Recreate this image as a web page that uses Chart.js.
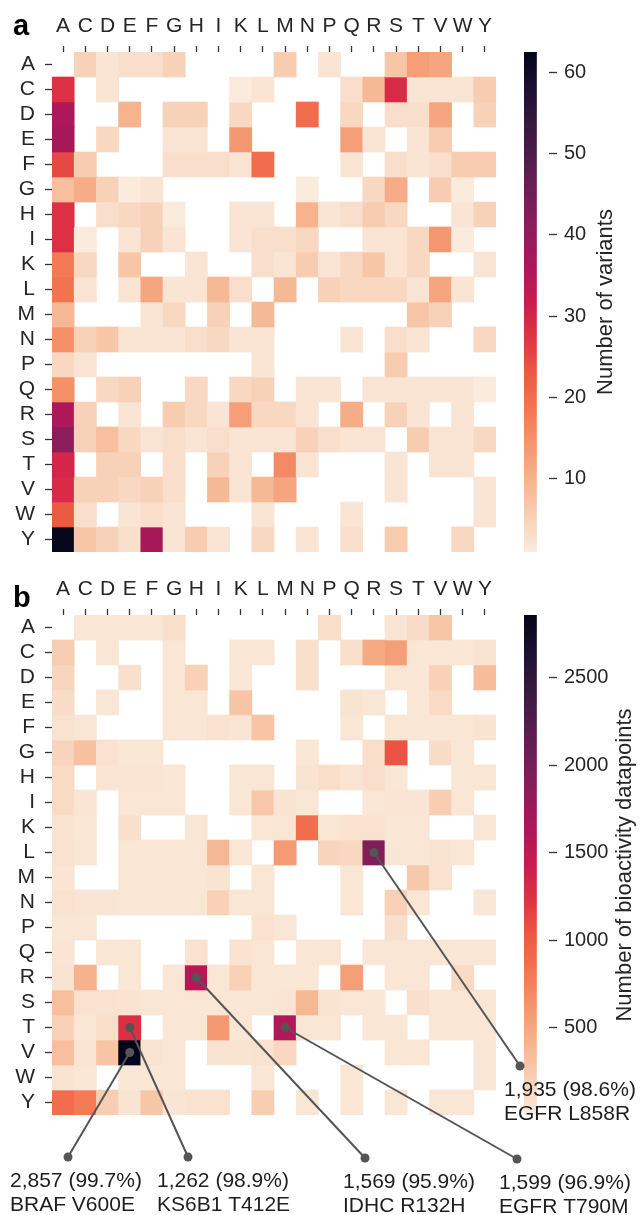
<!DOCTYPE html>
<html><head><meta charset="utf-8">
<script src="https://cdn.jsdelivr.net/npm/chart.js@4.4.1/dist/chart.umd.min.js"></script>
<style>
html,body{margin:0;padding:0;background:#fff;width:640px;height:1215px;overflow:hidden;}
.box{position:absolute;}
canvas{display:block;}
</style></head><body>
<div class="box" style="left:500px;top:0;width:140px;height:560px"><canvas id="cbA"></canvas></div>
<div class="box" style="left:0;top:0;width:500px;height:560px"><canvas id="hmA"></canvas></div>
<div class="box" style="left:500px;top:563px;width:140px;height:560px"><canvas id="cbB"></canvas></div>
<div class="box" style="left:0;top:563px;width:640px;height:652px"><canvas id="hmB"></canvas></div>
<script>
// ---------------- DATA ----------------
const residues = ['A','C','D','E','F','G','H','I','K','L','M','N','P','Q','R','S','T','V','W','Y'];

// panel a: number of variants (row = wild type, column = mutant); 0 = no data
const variantCounts = [
 [ 0, 5, 2, 3, 3, 5, 0, 0, 0, 0, 6, 0, 2, 0, 0, 7,13,12, 0, 0], // A
 [28, 0, 2, 0, 0, 0, 0, 0, 1, 2, 0, 0, 0, 3, 9,29, 2, 2, 2, 6], // C
 [36, 0, 0,10, 0, 5, 5, 0, 4, 0, 0,20, 0, 4, 0, 3, 3,12, 0, 5], // D
 [37, 0, 4, 0, 0, 2, 2, 0,14, 0, 0, 0, 0,13, 2, 0, 2, 6, 0, 0], // E
 [25, 6, 0, 0, 0, 3, 3, 3, 2,20, 0, 0, 0, 2, 0, 3, 2, 3, 6, 6], // F
 [ 8,11, 5, 1, 2, 0, 0, 0, 0, 0, 0, 1, 0, 0, 4,11, 0, 6, 1, 0], // G
 [28, 0, 3, 4, 5, 1, 0, 0, 2, 2, 0,10, 2, 3, 6, 4, 0, 0, 2, 5], // H
 [28, 1, 0, 2, 5, 2, 0, 0, 2, 3, 3, 4, 0, 0, 2, 2, 4,14, 1, 0], // I
 [18, 4, 0, 7, 0, 0, 2, 0, 0, 3, 2, 6, 2, 4, 7, 2, 4, 0, 0, 2], // K
 [19, 2, 0, 2,12, 2, 2, 9, 3, 0, 9, 0, 5, 4, 4, 4, 2,12, 2, 0], // L
 [ 9, 0, 0, 0, 2, 4, 0, 5, 0, 9, 0, 0, 0, 0, 0, 0, 7, 5, 0, 0], // M
 [15, 5, 7, 2, 2, 2, 3, 4, 2, 2, 0, 0, 0, 2, 0, 3, 2, 0, 0, 4], // N
 [ 4, 2, 0, 0, 0, 0, 0, 0, 0, 2, 0, 0, 0, 0, 0, 6, 0, 0, 0, 0], // P
 [15, 0, 4, 5, 0, 0, 4, 0, 4, 5, 0, 2, 2, 0, 2, 2, 2, 2, 2, 1], // Q
 [36, 5, 0, 2, 0, 6, 4, 2,13, 4, 4, 2, 0,11, 0, 5, 2, 0, 2, 0], // R
 [41, 5, 8, 4, 2, 3, 2, 3, 2, 2, 2, 5, 3, 2, 2, 0, 6, 2, 2, 4], // S
 [30, 0, 5, 5, 0, 3, 0, 5, 2, 0,16, 2, 0, 0, 0, 2, 0, 2, 2, 0], // T
 [29, 5, 5, 4, 5, 3, 0, 9, 2, 9,12, 0, 0, 0, 0, 2, 0, 0, 0, 2], // V
 [23, 3, 0, 2, 3, 2, 0, 0, 0, 2, 0, 0, 0, 2, 0, 0, 0, 0, 0, 2], // W
 [62, 7, 5, 3,37, 2, 6, 2, 0, 4, 0, 2, 0, 3, 0, 6, 0, 0, 4, 0]  // Y
];

// panel b: number of bioactivity datapoints; 0 = no data
const bioactivityCounts = [
 [  0, 40, 40,  40, 40, 100,   0,  0,  0,  0,   0,  0,100,  0,   0,  50, 110,280,  0,  0], // A
 [220,  0, 40,   0,  0,  40,   0,  0, 40, 40,   0, 80,  0,100, 480, 550,  40, 40, 40, 60], // C
 [160,  0,  0,  80,  0,  40, 200,  0, 40,  0,   0, 80,  0,  0,   0,  40,  40,200,  0,350], // D
 [110,  0, 40,   0,  0,  40,  40,  0,290,  0,   0,  0,  0, 60,  40,   0,  40,130,  0,  0], // E
 [ 70, 40,  0,   0,  0,  40,  40, 70, 50,290,   0,  0,  0, 40,   0,  40,  40, 40, 40, 60], // F
 [170,320, 70,  40, 40,   0,   0,  0,  0,  0,   0, 40,  0,  0, 100,1060,   0,110, 40,  0], // G
 [130,  0, 50,  50, 50,  40,   0,  0, 40, 40,   0, 60,100, 50,  90,  40,   0,  0, 40, 40], // H
 [130, 50,  0,  40, 40,  40,   0,  0, 40,270,  60, 40,  0,  0,  40,  50,  50,220, 40,  0], // I
 [ 60, 40,  0,  80,  0,   0,  40,  0,  0, 40,  40,880, 40, 70,  70,  40,  40,  0,  0, 40], // K
 [ 70, 40,  0,  40, 40,  40,  40,380, 40,  0, 580,  0,170,150,1935,  40,  40, 60, 40,  0], // L
 [ 50,  0,  0,  40, 40,  40,  40, 60,  0, 40,   0,  0,  0, 40,   0,   0, 260, 70,  0,  0], // M
 [ 70, 50, 50,  40, 40,  40,  40,200, 40, 40,   0,  0,  0, 40,   0, 200,  40,  0,  0, 40], // N
 [ 40, 40,  0,   0,  0,   0,   0,  0,  0, 70,  40,  0,  0,  0,   0,  80,   0,  0,  0,  0], // P
 [ 50,  0, 40,  40,  0,   0,  70,  0, 70, 40,   0, 40, 40,  0,  40,  40,  40, 40, 40, 40], // Q
 [ 60,420,  0,  40,  0,  40,1569, 40,200, 40,  40, 40,  0,550,   0,  40,  40,  0,130,  0], // R
 [330, 70, 70,  60, 40,  40,  40, 40, 40, 40,  50,380, 60, 40,  40,   0,  80, 40, 40, 40], // S
 [200, 40,100,1262,  0,  40,  40,590, 40,  0,1599, 40, 40,  0,  40,  40,   0, 40, 40, 40], // T
 [330, 50,290,2857, 70,  40,   0, 60, 60, 70, 150,  0,  0,  0,   0,  40,  40,  0,  0, 40], // V
 [ 60, 40,  0,  40, 40,  40,   0,  0,  0, 40,   0,  0,  0, 40,   0,   0,   0,  0,  0, 40], // W
 [880,780,220,  60,280,  50,  70, 70,  0,220,   0, 40,  0, 40,   0,  40,   0, 40, 40,  0]  // Y
];

const variantRange = [1, 62.5];
const bioRange = [1, 2857];
const variantTicks = [10, 20, 30, 40, 50, 60];
const bioTicks = [500, 1000, 1500, 2000, 2500];

// callouts in panel b
const calloutRow = ['V', 'T', 'R', 'T', 'L'];
const calloutCol = ['E', 'E', 'H', 'M', 'R'];
const calloutCount = [2857, 1262, 1569, 1599, 1935];
const calloutPct = [99.7, 98.9, 95.9, 96.9, 98.6];
const calloutName = ['BRAF V600E', 'KS6B1 T412E', 'IDHC R132H', 'EGFR T790M', 'EGFR L858R'];

// ---------------- STYLE / LAYOUT ----------------
const FONT = '"Liberation Sans", Arial, Helvetica, sans-serif';
const TEXT = '#262626';
const calloutDotX = [68, 188, 365, 517, 520];      // page px
const calloutDotY = [1157, 1157, 1158, 1159, 1066]; // page px
const calloutTextX = [10, 157, 343, 499, 504];

const rocketStops = [
 [0.000,'#03051a'],[0.071,'#1b1033'],[0.143,'#35193e'],[0.214,'#521c4d'],[0.286,'#701f57'],
 [0.357,'#8e1d5b'],[0.429,'#ad1759'],[0.500,'#cb1b4f'],[0.571,'#e13342'],[0.643,'#ed5a44'],
 [0.714,'#f37651'],[0.786,'#f5966f'],[0.857,'#f6b48f'],[0.929,'#f8d0b5'],[1.000,'#faebdd']];
function hex2rgb(h){return [parseInt(h.substr(1,2),16),parseInt(h.substr(3,2),16),parseInt(h.substr(5,2),16)];}
function rocket(x){
  x = Math.max(0, Math.min(1, x));
  for (let i = 1; i < rocketStops.length; i++) {
    const [p1, c1] = rocketStops[i - 1], [p2, c2] = rocketStops[i];
    if (x <= p2) {
      const f = (x - p1) / (p2 - p1), a = hex2rgb(c1), b = hex2rgb(c2);
      return 'rgb(' + a.map((v, k) => Math.round(v + (b[k] - v) * f)).join(',') + ')';
    }
  }
  return rocketStops[rocketStops.length - 1][1];
}
function colorFor(v, range){ return rocket(1 - (v - range[0]) / (range[1] - range[0])); }

Chart.defaults.font.family = FONT;
Chart.defaults.color = TEXT;
Chart.defaults.animation = false;

function noPad(s){ s.paddingTop = 0; s.paddingBottom = 0; s.paddingLeft = 0; s.paddingRight = 0; }

function panelLabel(text, x, y){
  return { id: 'panel' + text, afterDraw(chart){
    const c = chart.ctx; c.save(); c.fillStyle = '#000';
    c.font = 'bold 29px ' + FONT; c.textAlign = 'left'; c.textBaseline = 'alphabetic';
    c.fillText(text, x, y); c.restore(); } };
}

function heatmap(id, matrix, range, padRight, padBottom, plugins){
  const datasets = residues.map((r, i) => ({
    label: r,
    data: matrix[i].map(v => v > 0 ? [i, i + 1] : null),
    backgroundColor: matrix[i].map(v => v > 0 ? colorFor(v, range) : 'rgba(0,0,0,0)'),
    borderWidth: 0, borderSkipped: false, grouped: false,
    barPercentage: 1, categoryPercentage: 1
  }));
  return new Chart(document.getElementById(id), {
    type: 'bar',
    data: { labels: residues, datasets },
    options: {
      responsive: true, maintainAspectRatio: false, events: [],
      layout: { padding: { left: 0, top: 0, right: padRight, bottom: padBottom } },
      plugins: { legend: { display: false }, tooltip: { enabled: false } },
      scales: {
        x: { type: 'category', position: 'top', offset: true,
             grid: { offset: false, drawOnChartArea: false, drawTicks: true, tickLength: 6, tickWidth: 1.3, tickColor: '#333', color: '#333' },
             border: { display: false },
             ticks: { color: TEXT, font: { size: 21 }, padding: 7, autoSkip: false, maxRotation: 0, minRotation: 0 },
             afterFit(s){ s.height = 52; noPad(s); } },
        y: { type: 'linear', min: 0, max: 20, reverse: true,
             afterBuildTicks(s){ s.ticks = residues.map((_, i) => ({ value: i + 0.5 })); },
             grid: { drawOnChartArea: false, drawTicks: true, tickLength: 7, tickWidth: 1.3, tickColor: '#333', color: '#333' },
             border: { display: false },
             ticks: { color: TEXT, font: { size: 21 }, padding: 10, autoSkip: false,
                      callback: v => residues[Math.floor(v)] },
             afterFit(s){ s.width = 52; noPad(s); } }
      }
    },
    plugins
  });
}

function colorbar(id, range, tickVals, title, titleX){
  return new Chart(document.getElementById(id), {
    type: 'bar',
    data: { labels: [''], datasets: [{
      data: [[range[0], range[1]]],
      backgroundColor: (ctx) => {
        const ca = ctx.chart.chartArea; if (!ca) return '#faebdd';
        const g = ctx.chart.ctx.createLinearGradient(0, ca.bottom, 0, ca.top);
        rocketStops.forEach(([p, c]) => g.addColorStop(1 - p, c));
        return g;
      },
      borderWidth: 0, barPercentage: 1, categoryPercentage: 1 }] },
    options: {
      responsive: true, maintainAspectRatio: false, events: [],
      layout: { padding: { left: 24, top: 52, right: 0, bottom: 8 } },
      plugins: { legend: { display: false }, tooltip: { enabled: false } },
      scales: {
        x: { display: false, offset: false },
        y: { type: 'linear', position: 'right', min: range[0], max: range[1],
             afterBuildTicks(s){ s.ticks = tickVals.map(v => ({ value: v })); },
             grid: { drawOnChartArea: false, drawTicks: true, tickLength: 8, tickWidth: 1.3, tickColor: '#333', color: '#333' },
             border: { display: false },
             ticks: { color: TEXT, font: { size: 20 }, padding: 7, autoSkip: false, callback: v => String(v) },
             afterFit(s){ s.width = 91; noPad(s); } }
      }
    },
    plugins: [{ id: 'cbTitle', afterDraw(chart){
      const c = chart.ctx, ca = chart.chartArea; c.save();
      c.translate(titleX - 500, (ca.top + ca.bottom) / 2); c.rotate(-Math.PI / 2);
      c.fillStyle = TEXT; c.font = '22px ' + FONT; c.textAlign = 'center'; c.textBaseline = 'alphabetic';
      c.fillText(title, 0, 0); c.restore(); } }]
  });
}

const calloutPlugin = { id: 'callouts', afterDraw(chart){
  const c = chart.ctx, xs = chart.scales.x, ys = chart.scales.y, top = 563;
  c.save();
  c.strokeStyle = '#555'; c.fillStyle = '#555'; c.lineWidth = 2;
  calloutRow.forEach((r, i) => {
    const cx = xs.getPixelForValue(residues.indexOf(calloutCol[i]));
    const cy = ys.getPixelForValue(residues.indexOf(r) + 0.5);
    const dx = calloutDotX[i], dy = calloutDotY[i] - top;
    c.beginPath(); c.moveTo(cx, cy); c.lineTo(dx, dy); c.stroke();
    c.beginPath(); c.arc(cx, cy, 4.5, 0, Math.PI * 2); c.fill();
    c.beginPath(); c.arc(dx, dy, 4.5, 0, Math.PI * 2); c.fill();
  });
  c.fillStyle = '#1e1e1e'; c.font = '21px ' + FONT; c.textAlign = 'left'; c.textBaseline = 'alphabetic';
  calloutRow.forEach((r, i) => {
    const y1 = calloutDotY[i] - top + 30;
    c.fillText(calloutCount[i].toLocaleString('en-US') + ' (' + calloutPct[i].toFixed(1) + '%)', calloutTextX[i], y1);
    c.fillText(calloutName[i], calloutTextX[i], y1 + 24);
  });
  c.restore(); } };

colorbar('cbA', variantRange, variantTicks, 'Number of variants', 612);
heatmap('hmA', variantCounts, variantRange, 4, 8, [panelLabel('a', 13, 35)]);
colorbar('cbB', bioRange, bioTicks, 'Number of bioactivity datapoints', 631);
heatmap('hmB', bioactivityCounts, bioRange, 144, 100, [panelLabel('b', 13, 44), calloutPlugin]);
</script>
</body></html>
